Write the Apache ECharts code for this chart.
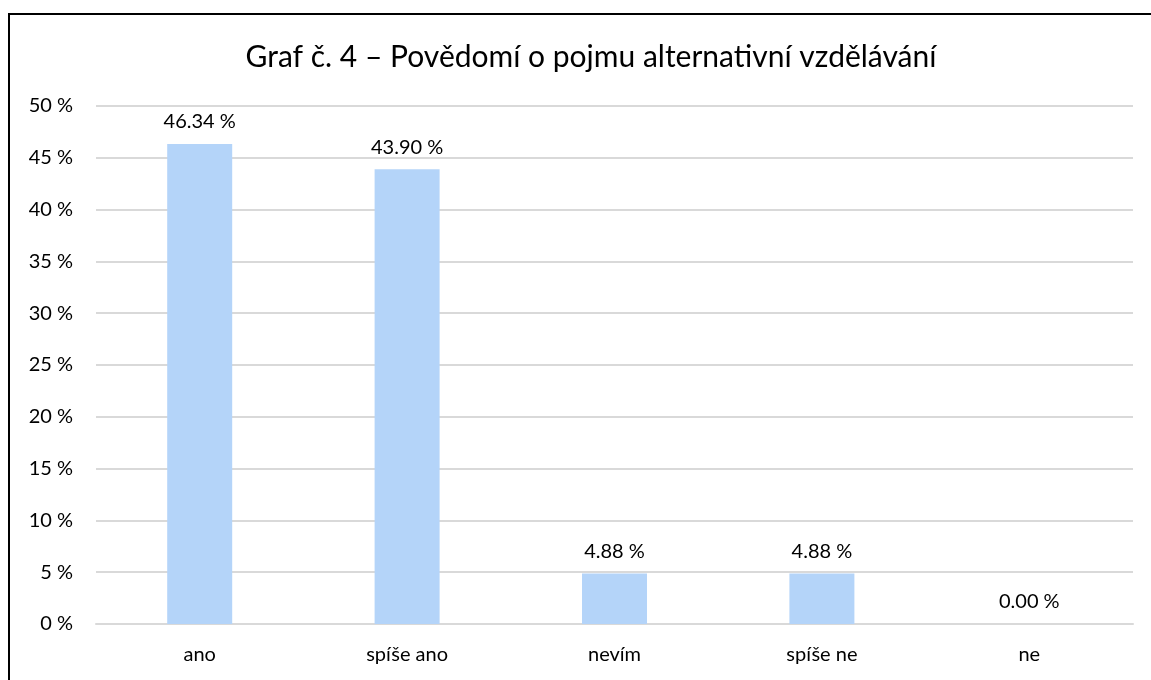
<!DOCTYPE html>
<html><head><meta charset="utf-8">
<script src="https://cdn.jsdelivr.net/npm/echarts@6/dist/echarts.min.js"></script>
<style>html,body{margin:0;padding:0;background:#fff}#c{width:1151px;height:680px}</style>
</head><body><div id="c"></div>
<script>
const categories = ['ano', 'spíše ano', 'nevím', 'spíše ne', 'ne'];
const values = [46.34, 43.90, 4.88, 4.88, 0.00];
const yTicks = [0, 5, 10, 15, 20, 25, 30, 35, 40, 45, 50];
const titleText = 'Graf č. 4 – Povědomí o pojmu alternativní vzdělávání';

const FONT = 'Lato, "Open Sans", sans-serif';
const chart = echarts.init(document.getElementById('c'), null, {renderer: 'canvas'});
chart.setOption({
  animation: false,
  backgroundColor: '#fff',
  graphic: [
    {type: 'rect', shape: {x: 9, y: 14, width: 1200, height: 700}, style: {fill: 'none', stroke: '#000', lineWidth: 2}, z: 100},
    {type: 'text', x: 591, y: 57, style: {text: titleText, font: '30px ' + FONT, fill: '#000', textAlign: 'center', textVerticalAlign: 'middle'}}
  ],
  grid: {left: 96, right: 18, top: 106, bottom: 56},
  xAxis: {
    type: 'category', data: categories,
    axisLine: {show: true, lineStyle: {color: '#d9d9d9', width: 2}},
    axisTick: {show: false},
    axisLabel: {color: '#000', fontSize: 20, fontFamily: FONT, margin: 21}
  },
  yAxis: {
    type: 'value', min: yTicks[0], max: yTicks[yTicks.length - 1], interval: 5,
    axisLine: {show: false}, axisTick: {show: false},
    splitLine: {lineStyle: {color: '#d9d9d9', width: 2}},
    axisLabel: {color: '#000', fontSize: 20, fontFamily: FONT, margin: 23, formatter: v => v + ' %'}
  },
  series: [{
    type: 'bar', data: values, barWidth: 65,
    itemStyle: {color: '#b4d4f9'},
    label: {show: true, position: 'top', distance: 12, color: '#000', fontSize: 20, fontFamily: FONT,
      formatter: p => p.value.toFixed(2) + ' %'}
  }]
});
</script></body></html>
